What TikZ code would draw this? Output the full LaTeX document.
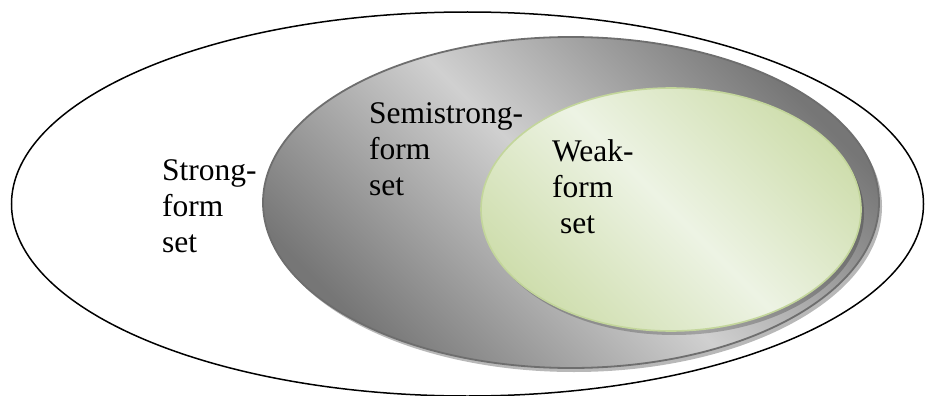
\documentclass[tikz,border=0pt]{standalone}
\usepackage{fontspec}
\setmainfont{LiberationSerif}[Extension=.ttf, UprightFont=*-Regular, BoldFont=*-Bold]
\definecolor{outerline}{HTML}{000000}
\definecolor{semiedge}{HTML}{6E6E6E}
\definecolor{semidark}{HTML}{767676}
\definecolor{semilight}{HTML}{D0D0D0}
\definecolor{semishadow}{HTML}{B8B8B8}
\definecolor{weakedge}{HTML}{C3D69B}
\definecolor{weakdark}{HTML}{CFDEAE}
\definecolor{weaklight}{HTML}{EDF3E4}
\begin{document}
\begin{tikzpicture}[x=1pt,y=-1pt,
  % anchored at the baseline of the last line
  setlabel/.style={anchor=base west, align=left, inner sep=0pt,
    font=\rmfamily\fontsize{31.5}{36}\selectfont},
]
\useasboundingbox (0,0) rectangle (926,396);

% strong-form set: the outer boundary
\draw[outerline, line width=1.5pt] (467.5,204) ellipse [x radius=456pt, y radius=192pt];

% semistrong-form set with its drop shadow
\fill[semishadow] (574,206.5) ellipse [x radius=308pt, y radius=165.5pt];
\shade[top color=semidark, bottom color=semidark, middle color=semilight, shading angle=-45]
  (571,202.5) ellipse [x radius=308pt, y radius=165.5pt];
\draw[semiedge, line width=1.8pt] (571,202.5) ellipse [x radius=308pt, y radius=165.5pt];

% weak-form set with its drop shadow
\fill[black, opacity=0.22] (674,213.5) ellipse [x radius=190pt, y radius=121.5pt];
\shade[top color=weakdark, bottom color=weakdark, middle color=weaklight, shading angle=-45]
  (671,209.5) ellipse [x radius=190pt, y radius=121.5pt];
\draw[weakedge, line width=1.6pt] (671,209.5) ellipse [x radius=190pt, y radius=121.5pt];

% labels
\node[setlabel] (strong) at (162,252) {Strong-\\form\\set};
\node[setlabel] (semi) at (369,195) {Semistrong-\\form\\set};
\node[setlabel] (weak) at (552,233) {Weak-\\form\\\hspace{0.25em}set};
\end{tikzpicture}
\end{document}
